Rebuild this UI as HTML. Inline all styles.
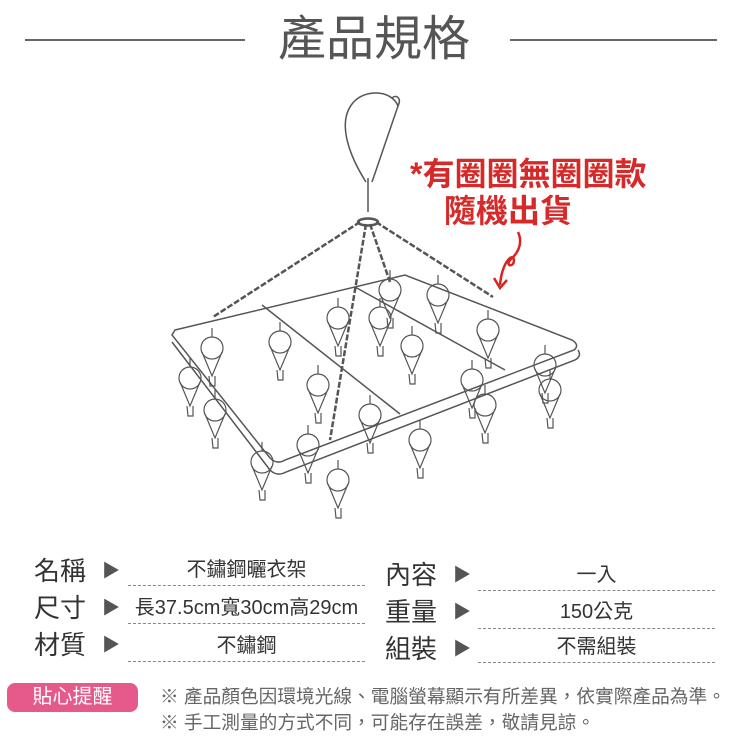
<!DOCTYPE html>
<html><head><meta charset="utf-8"><style>
body{margin:0;width:750px;height:750px;background:#fff;position:relative;overflow:hidden;font-family:"Liberation Sans","Noto Sans CJK TC",sans-serif;}
.a{position:absolute;white-space:nowrap;}
.lbl{font-size:26px;color:#333;line-height:30px;}
.arr{font-size:18px;color:#555;line-height:30px;}
.val{font-size:20px;color:#333;text-align:center;line-height:30px;}
.dash{position:absolute;height:0;border-top:1.5px dashed #888;}
.note{font-size:18.7px;color:#666;line-height:22px;}
</style></head><body>
<div class="a" style="left:25px;top:39px;width:220px;height:2px;background:#666"></div>
<div class="a" style="left:510px;top:39px;width:207px;height:2px;background:#666"></div>
<div class="a" style="left:278px;top:12px;font-size:48px;color:#555;line-height:56px;">產品規格</div>

<svg class="a" style="left:0;top:0" width="750" height="540" viewBox="0 0 750 540">
<defs>
<g id="c" fill="none" stroke="#555" stroke-width="1.2"><circle cx="0" cy="0" r="11"/><path d="M-10 4 L0 28 L10 4"/><path d="M-3 28 L-2 38 L3 38 L3 28"/><path d="M0 -11 L0 -20"/></g>
</defs>
<g fill="none" stroke="#555" stroke-width="1.5">
<path d="M366 182 C352 160,336 125,352 104 C364 88,392 90,398 106 L372 182"/>
<path d="M398 106 C402 98,396 94,392 98"/>
<path d="M368 178 L368 212"/>
<ellipse cx="368" cy="222" rx="10" ry="3.5" stroke-width="2.5"/>
<path d="M360 222 L213 317" stroke-dasharray="6 2" stroke-width="2.5"/>
<path d="M376 222 L493 297" stroke-dasharray="6 2" stroke-width="2.5"/>
<path d="M366 224 L330 440" stroke-dasharray="6 2" stroke-width="2.5"/>
<path d="M370 224 L390 282" stroke-dasharray="6 2" stroke-width="2.5"/>
<path d="M175 330 L405 275 L572 340 Q580 345 574 350 L285 460 Q277 465 270 458 L172 335 Z"/>
<path d="M172 342 L270 470 Q277 477 286 472 L575 360 Q582 356 578 350"/>
<path d="M262 305 L400 414"/>
<path d="M355 287 L505 370"/>
</g>
<use href="#c" x="190" y="378"/><use href="#c" x="215" y="410"/><use href="#c" x="262" y="462"/>
<use href="#c" x="338" y="480"/><use href="#c" x="212" y="348"/><use href="#c" x="280" y="342"/>
<use href="#c" x="318" y="385"/><use href="#c" x="338" y="318"/><use href="#c" x="370" y="415"/>
<use href="#c" x="380" y="318"/><use href="#c" x="412" y="346"/><use href="#c" x="390" y="290"/>
<use href="#c" x="438" y="295"/><use href="#c" x="488" y="330"/><use href="#c" x="472" y="380"/>
<use href="#c" x="485" y="405"/><use href="#c" x="420" y="440"/><use href="#c" x="545" y="365"/>
<use href="#c" x="550" y="390"/><use href="#c" x="308" y="445"/>
<path d="M518 232 C524 245,516 255,510 260 C505 266,514 268,514 260 C513 252,502 262,500 285" fill="none" stroke="#d22" stroke-width="2.5"/>
<path d="M494 278 L500 288 L507 280" fill="none" stroke="#d22" stroke-width="2.5"/>
<text x="410" y="185" font-size="32" font-weight="bold" fill="#d62a2a" font-family="Liberation Sans,Noto Sans CJK TC,sans-serif">*有圈圈無圈圈款</text>
<text x="444" y="222" font-size="32" font-weight="bold" fill="#d62a2a" font-family="Liberation Sans,Noto Sans CJK TC,sans-serif">隨機出貨</text>
</svg>

<div class="a lbl" style="left:34px;top:556px">名稱</div>
<div class="a lbl" style="left:34px;top:593px">尺寸</div>
<div class="a lbl" style="left:34px;top:630px">材質</div>
<div class="a arr" style="left:102px;top:556px">▶</div>
<div class="a arr" style="left:102px;top:593px">▶</div>
<div class="a arr" style="left:102px;top:630px">▶</div>
<div class="a val" style="left:128px;width:237px;top:555px">不鏽鋼曬衣架</div>
<div class="a val" style="left:128px;width:237px;top:593px">長37.5cm寬30cm高29cm</div>
<div class="a val" style="left:128px;width:237px;top:631px">不鏽鋼</div>
<div class="dash" style="left:128px;width:237px;top:585px"></div>
<div class="dash" style="left:128px;width:237px;top:623px"></div>
<div class="dash" style="left:128px;width:237px;top:661px"></div>

<div class="a lbl" style="left:385px;top:560px">內容</div>
<div class="a lbl" style="left:385px;top:597px">重量</div>
<div class="a lbl" style="left:385px;top:634px">組裝</div>
<div class="a arr" style="left:453px;top:560px">▶</div>
<div class="a arr" style="left:453px;top:597px">▶</div>
<div class="a arr" style="left:453px;top:634px">▶</div>
<div class="a val" style="left:478px;width:237px;top:560px">一入</div>
<div class="a val" style="left:478px;width:237px;top:597px">150公克</div>
<div class="a val" style="left:478px;width:237px;top:632px">不需組裝</div>
<div class="dash" style="left:478px;width:237px;top:590px"></div>
<div class="dash" style="left:478px;width:237px;top:628px"></div>
<div class="dash" style="left:478px;width:237px;top:662px"></div>

<div class="a" style="left:7px;top:683px;width:131px;height:29px;border-radius:8px;background:#e55a8a;color:#fff;font-size:20px;line-height:29px;text-align:center">貼心提醒</div>
<div class="a note" style="left:160px;top:686px">※ 產品顏色因環境光線、電腦螢幕顯示有所差異，依實際產品為準。</div>
<div class="a note" style="left:160px;top:712px">※ 手工測量的方式不同，可能存在誤差，敬請見諒。</div>
</body></html>
